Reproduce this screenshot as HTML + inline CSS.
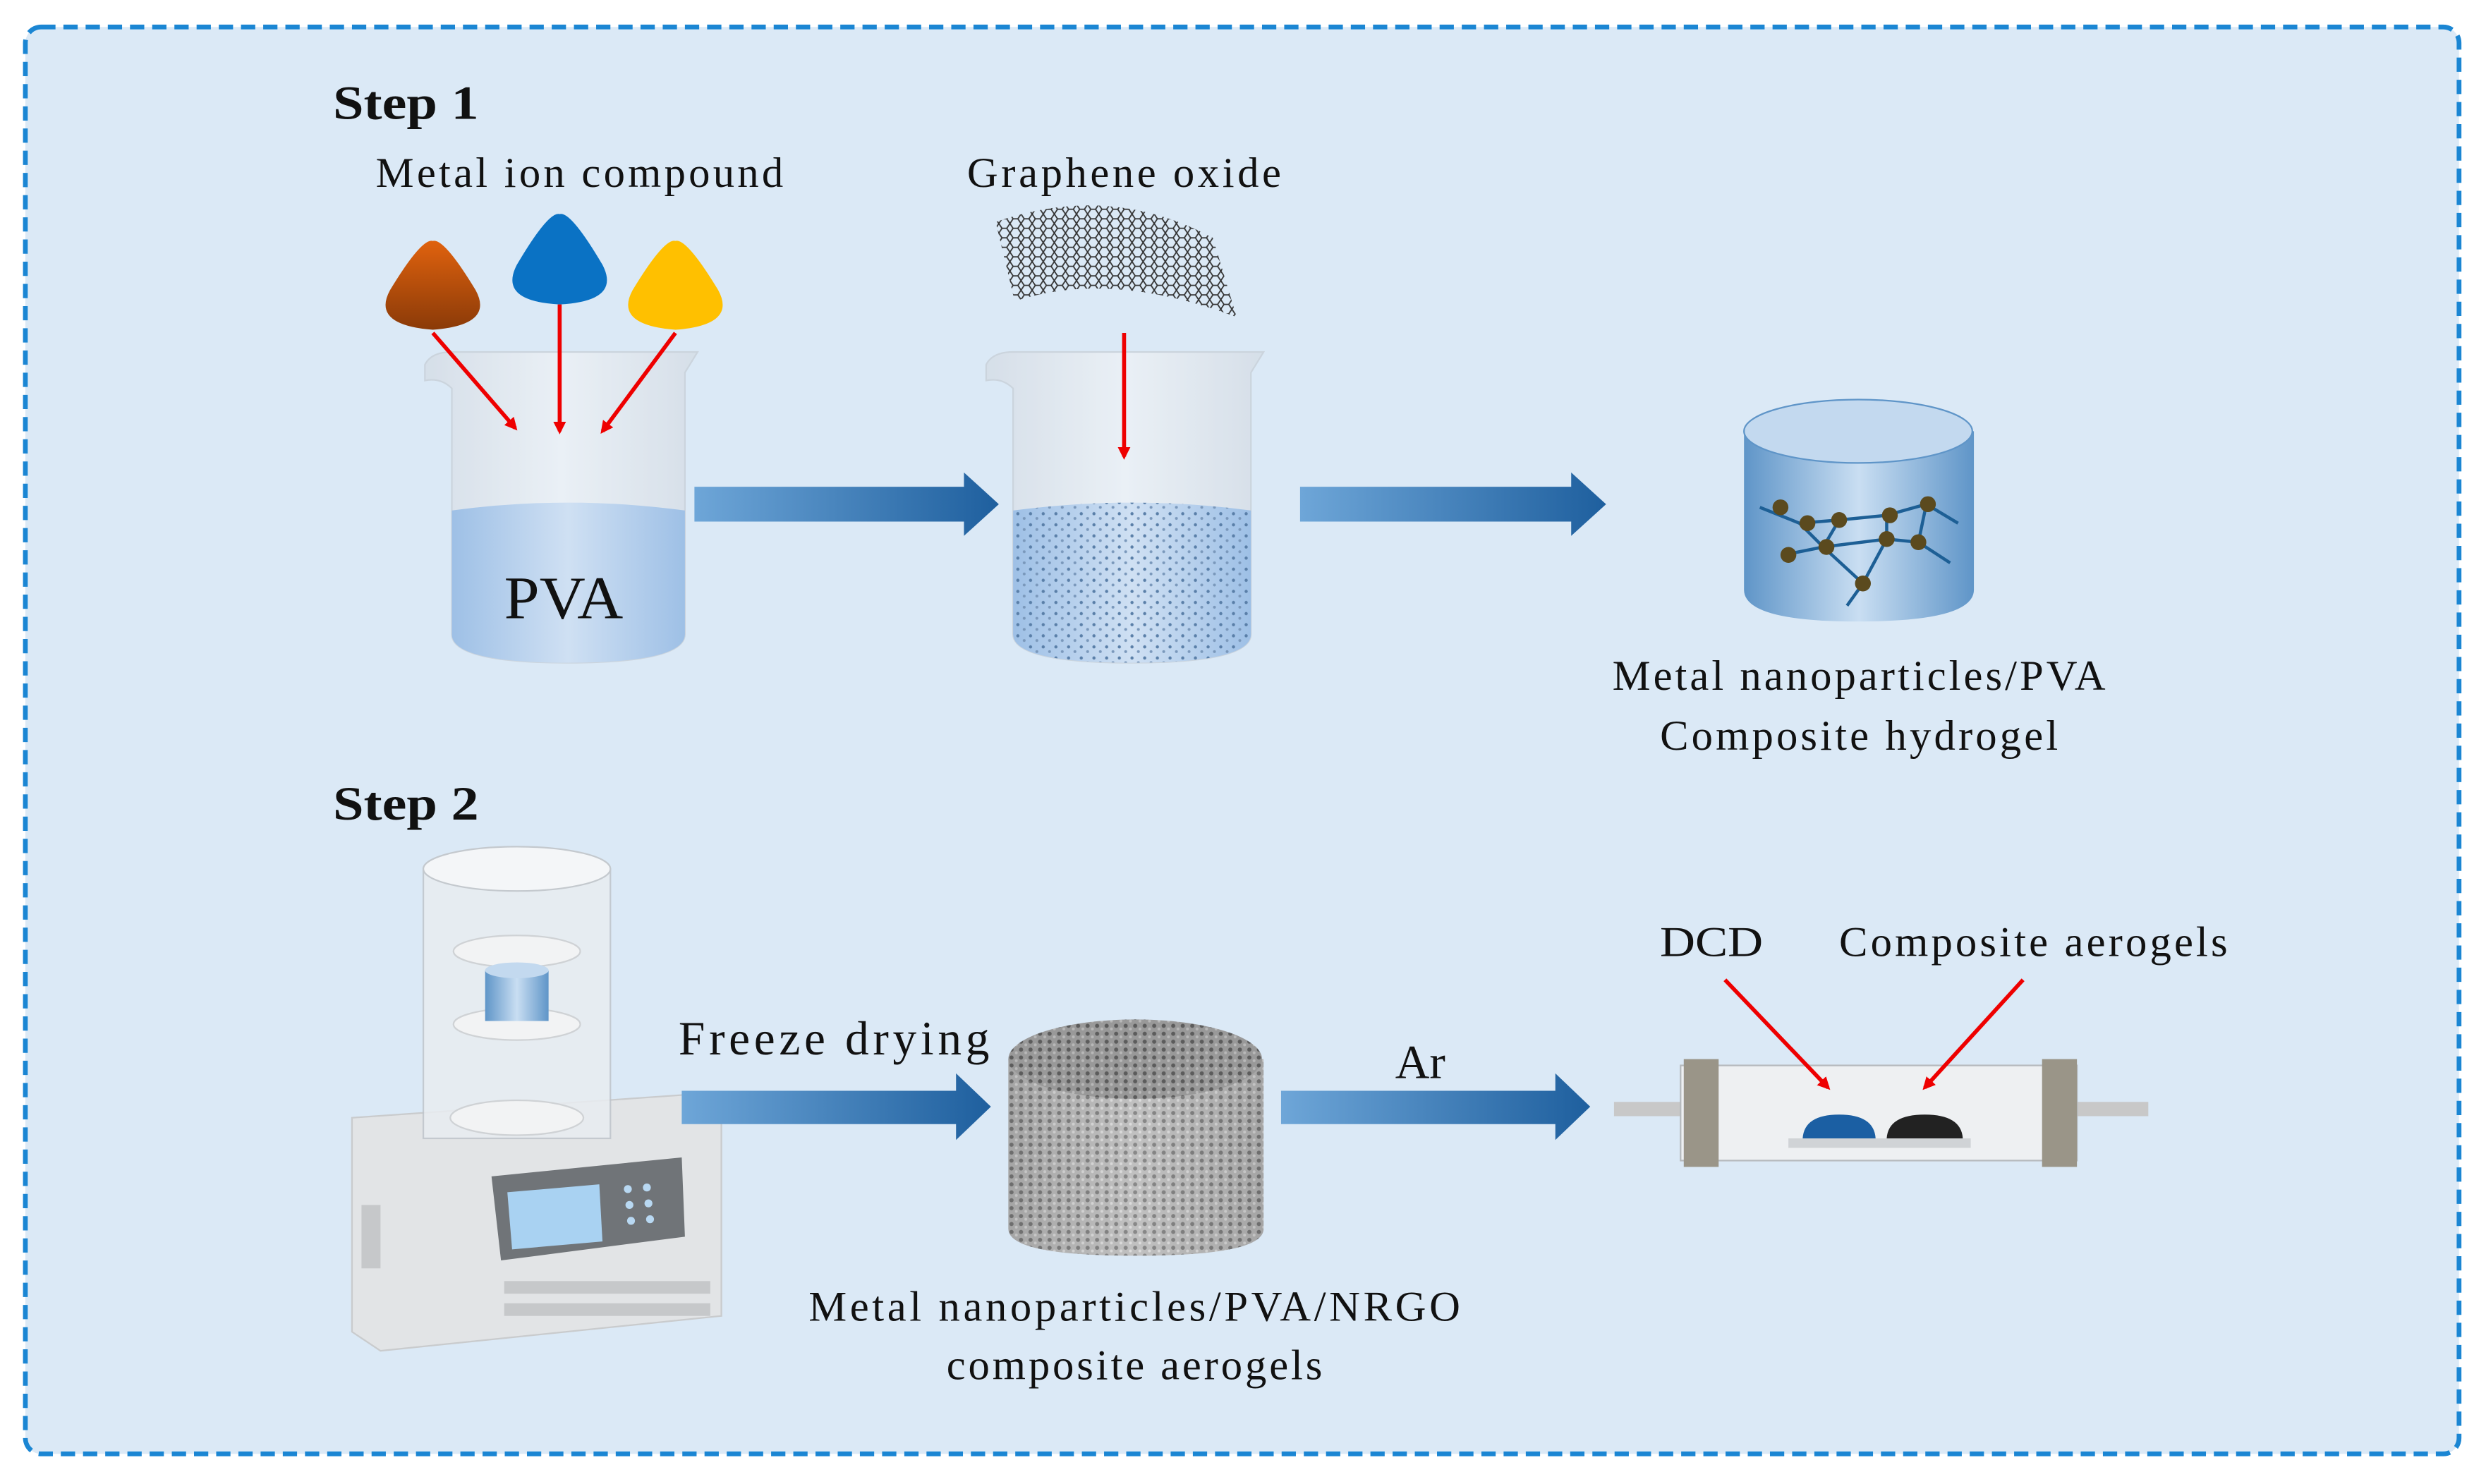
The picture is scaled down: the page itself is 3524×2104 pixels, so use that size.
<!DOCTYPE html>
<html><head><meta charset="utf-8"><style>
html,body{margin:0;padding:0;background:#fff}
svg{display:block}
text{font-family:"Liberation Serif",serif;fill:#111}
</style></head><body>
<svg width="3524" height="2104" viewBox="0 0 1568 936" preserveAspectRatio="none" xmlns="http://www.w3.org/2000/svg">
<defs>
<linearGradient id="arr" x1="0" x2="1"><stop offset="0" stop-color="#6ea6d8"/><stop offset="1" stop-color="#1e5f9e"/></linearGradient>
<linearGradient id="liq" x1="0" x2="1"><stop offset="0" stop-color="#9ec0e6"/><stop offset="0.5" stop-color="#cfe0f3"/><stop offset="1" stop-color="#9ec0e6"/></linearGradient>
<linearGradient id="glass" x1="0" x2="1"><stop offset="0" stop-color="#d5dde6"/><stop offset="0.5" stop-color="#eef2f6"/><stop offset="1" stop-color="#d5dde6"/></linearGradient>
<linearGradient id="cyl" x1="0" x2="1"><stop offset="0" stop-color="#5f95c8"/><stop offset="0.5" stop-color="#c9def2"/><stop offset="1" stop-color="#5f95c8"/></linearGradient>
<linearGradient id="org" x1="0" y1="0" x2="0" y2="1"><stop offset="0" stop-color="#e0620e"/><stop offset="1" stop-color="#8a3a08"/></linearGradient>
<linearGradient id="gray" x1="0" x2="1"><stop offset="0" stop-color="#8a8a8a"/><stop offset="0.5" stop-color="#c8c8c8"/><stop offset="1" stop-color="#8a8a8a"/></linearGradient>
<pattern id="dots" width="8" height="7" patternUnits="userSpaceOnUse"><circle cx="2" cy="2" r="1" fill="#5a7fa8"/><circle cx="6" cy="5" r="0.9" fill="#7a98bb"/></pattern>
<pattern id="hex" width="7" height="6" patternUnits="userSpaceOnUse"><path d="M0 3 L2 0 L5 0 L7 3 L5 6 L2 6 Z" fill="none" stroke="#333" stroke-width="0.8"/></pattern>
<pattern id="foam" width="6" height="5" patternUnits="userSpaceOnUse"><rect width="6" height="5" fill="#bbb"/><circle cx="2" cy="2" r="1.3" fill="#555"/><circle cx="5" cy="4" r="0.9" fill="#eee"/></pattern>
<marker id="rh" markerWidth="8" markerHeight="8" refX="6" refY="4" orient="auto" markerUnits="userSpaceOnUse"><path d="M0 0 L8 4 L0 8 Z" fill="#e00"/></marker>
</defs>
<rect x="16" y="17" width="1535" height="900" rx="10" fill="#dbe9f6" stroke="#1b86d3" stroke-width="3" stroke-dasharray="9 5"/>

<text x="210" y="75" font-size="30" font-weight="bold" textLength="92" lengthAdjust="spacingAndGlyphs">Step 1</text>
<text x="237" y="118" font-size="27" textLength="257" lengthAdjust="spacing">Metal ion compound</text>
<text x="610" y="118" font-size="27" textLength="198" lengthAdjust="spacing">Graphene oxide</text>

<path d="M273 152 Q280 150 300 183 Q312 205 273 208 Q234 205 246 183 Q266 150 273 152Z" fill="url(#org)"/>
<path d="M353 135 Q360 133 380 167 Q392 190 353 192 Q314 190 326 167 Q346 133 353 135Z" fill="#0a72c4"/>
<path d="M426 152 Q433 150 453 183 Q465 205 426 208 Q387 205 399 183 Q419 150 426 152Z" fill="#ffc000"/>

<path d="M268 230 Q272 222 285 222 L440 222 L432 235 L432 400 Q432 418 358 418 Q285 418 285 400 L285 245 Q278 238 268 240Z" fill="url(#glass)" opacity="0.8" stroke="#c8d0d8"/>
<path d="M285 322 Q358 312 432 322 L432 400 Q432 418 358 418 Q285 418 285 400Z" fill="url(#liq)"/>
<text x="318" y="390" font-size="38" textLength="75" lengthAdjust="spacingAndGlyphs">PVA</text>
<line x1="273" y1="210" x2="325" y2="270" stroke="#e00" stroke-width="2.5" marker-end="url(#rh)"/>
<line x1="353" y1="192" x2="353" y2="272" stroke="#e00" stroke-width="2.5" marker-end="url(#rh)"/>
<line x1="426" y1="210" x2="380" y2="272" stroke="#e00" stroke-width="2.5" marker-end="url(#rh)"/>

<path d="M438 307 L608 307 L608 298 L630 318 L608 338 L608 329 L438 329Z" fill="url(#arr)"/>

<path d="M628 140 Q700 115 765 150 L780 200 Q700 170 640 190Z" fill="url(#hex)"/>
<path d="M622 230 Q626 222 639 222 L797 222 L789 235 L789 400 Q789 418 714 418 Q639 418 639 400 L639 245 Q632 238 622 240Z" fill="url(#glass)" opacity="0.8" stroke="#c8d0d8"/>
<path d="M639 322 Q714 312 789 322 L789 400 Q789 418 714 418 Q639 418 639 400Z" fill="url(#liq)"/>
<path d="M639 322 Q714 312 789 322 L789 400 Q789 418 714 418 Q639 418 639 400Z" fill="url(#dots)"/>
<line x1="709" y1="210" x2="709" y2="288" stroke="#e00" stroke-width="2.5" marker-end="url(#rh)"/>

<path d="M820 307 L991 307 L991 298 L1013 318 L991 338 L991 329 L820 329Z" fill="url(#arr)"/>

<path d="M1100 272 L1100 372 Q1100 392 1172 392 Q1245 392 1245 372 L1245 272Z" fill="url(#cyl)"/>
<ellipse cx="1172" cy="272" rx="72" ry="20" fill="#c3d9ef" stroke="#5f95c8"/>
<g stroke="#1d5f95" stroke-width="2" fill="none">
<path d="M1110 320 L1135 330 L1160 328 L1190 325 L1215 318 L1235 330"/><path d="M1125 350 L1150 345 L1190 340 L1210 342 L1230 355"/><path d="M1135 330 L1150 345 L1175 368 L1165 382"/><path d="M1190 325 L1190 340 L1175 368"/><path d="M1160 328 L1150 345"/><path d="M1215 318 L1210 342"/>
</g>
<g fill="#5b4a1e"><circle cx="1123" cy="320" r="5"/><circle cx="1140" cy="330" r="5"/><circle cx="1160" cy="328" r="5"/><circle cx="1192" cy="325" r="5"/><circle cx="1216" cy="318" r="5"/><circle cx="1128" cy="350" r="5"/><circle cx="1152" cy="345" r="5"/><circle cx="1190" cy="340" r="5"/><circle cx="1210" cy="342" r="5"/><circle cx="1175" cy="368" r="5"/></g>
<text x="1017" y="435" font-size="27" textLength="311" lengthAdjust="spacing">Metal nanoparticles/PVA</text>
<text x="1047" y="473" font-size="27" textLength="251" lengthAdjust="spacing">Composite hydrogel</text>

<text x="210" y="517" font-size="30" font-weight="bold" textLength="92" lengthAdjust="spacingAndGlyphs">Step 2</text>

<path d="M222 705 L440 690 L455 700 L455 830 L240 852 L222 840Z" fill="#e2e4e6" stroke="#c9cbcd"/>
<path d="M310 742 L430 730 L432 780 L316 795Z" fill="#707478"/>
<path d="M320 752 L378 747 L380 783 L323 788Z" fill="#a9d2f2"/>
<g fill="#b8d8f2"><circle cx="396" cy="750" r="2.5"/><circle cx="408" cy="749" r="2.5"/><circle cx="397" cy="760" r="2.5"/><circle cx="409" cy="759" r="2.5"/><circle cx="398" cy="770" r="2.5"/><circle cx="410" cy="769" r="2.5"/></g>
<g fill="#c6c8ca"><rect x="318" y="808" width="130" height="8"/><rect x="318" y="822" width="130" height="8"/><rect x="228" y="760" width="12" height="40"/></g>
<rect x="267" y="548" width="118" height="170" fill="#e9edf1" opacity="0.85" stroke="#bfc5cb"/>
<ellipse cx="326" cy="548" rx="59" ry="14" fill="#f4f6f8" stroke="#c4c9ce"/>
<ellipse cx="326" cy="600" rx="40" ry="10" fill="#f2f3f4" stroke="#cfd2d5"/>
<ellipse cx="326" cy="646" rx="40" ry="10" fill="#f2f3f4" stroke="#cfd2d5"/>
<ellipse cx="326" cy="705" rx="42" ry="11" fill="#f2f3f4" stroke="#cfd2d5"/>
<rect x="306" y="612" width="40" height="32" fill="url(#cyl)"/>
<ellipse cx="326" cy="612" rx="20" ry="5" fill="#c3d9ef"/>

<text x="428" y="665" font-size="30" textLength="196" lengthAdjust="spacing">Freeze drying</text>
<path d="M430 688 L603 688 L603 677 L625 698 L603 719 L603 709 L430 709Z" fill="url(#arr)"/>

<path d="M636 668 L636 775 Q636 792 716 792 Q797 792 797 775 L797 668Z" fill="url(#foam)"/>
<path d="M636 668 L636 775 Q636 792 716 792 Q797 792 797 775 L797 668Z" fill="url(#gray)" opacity="0.45"/>
<ellipse cx="716" cy="668" rx="80" ry="25" fill="url(#foam)"/>
<ellipse cx="716" cy="668" rx="80" ry="25" fill="#666" opacity="0.4"/>
<text x="510" y="833" font-size="27" textLength="411" lengthAdjust="spacing">Metal nanoparticles/PVA/NRGO</text>
<text x="597" y="870" font-size="27" textLength="237" lengthAdjust="spacing">composite aerogels</text>

<text x="880" y="680" font-size="30">Ar</text>
<path d="M808 688 L981 688 L981 677 L1003 698 L981 719 L981 709 L808 709Z" fill="url(#arr)"/>

<rect x="1018" y="695" width="45" height="9" fill="#c8c8c8"/>
<rect x="1308" y="695" width="47" height="9" fill="#c8c8c8"/>
<rect x="1060" y="672" width="250" height="60" fill="#eef0f2" stroke="#b5b9bd"/>
<rect x="1062" y="668" width="22" height="68" fill="#9a9588"/>
<rect x="1288" y="668" width="22" height="68" fill="#9a9588"/>
<rect x="1128" y="718" width="115" height="6" fill="#d0d3d6"/>
<path d="M1137 718 Q1138 703 1160 703 Q1182 703 1183 718Z" fill="#1b5fa3"/>
<path d="M1190 718 Q1191 703 1214 703 Q1237 703 1238 718Z" fill="#222"/>
<text x="1047" y="603" font-size="27" textLength="65" lengthAdjust="spacingAndGlyphs">DCD</text>
<text x="1160" y="603" font-size="27" textLength="245" lengthAdjust="spacing">Composite aerogels</text>
<line x1="1088" y1="618" x2="1153" y2="686" stroke="#e00" stroke-width="2.5" marker-end="url(#rh)"/>
<line x1="1276" y1="618" x2="1214" y2="686" stroke="#e00" stroke-width="2.5" marker-end="url(#rh)"/>
</svg>
</body></html>
